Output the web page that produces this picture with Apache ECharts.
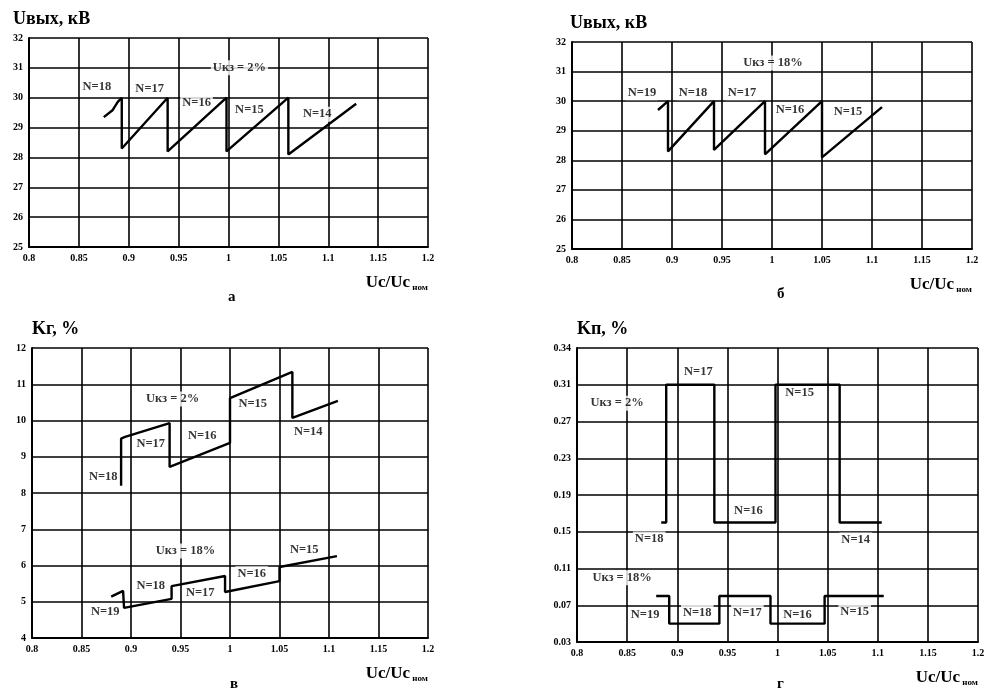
<!DOCTYPE html>
<html><head><meta charset="utf-8">
<script src="https://cdn.jsdelivr.net/npm/echarts@6/dist/echarts.min.js"></script>
<style>html,body{margin:0;padding:0;background:#fff}#c{width:990px;height:690px}</style>
</head><body><div id="c"></div>
<script>
// ---- tick labels ----
const xTickLabels = ['0.8','0.85','0.9','0.95','1','1.05','1.1','1.15','1.2'];
const yTickLabelsUout = ['25','26','27','28','29','30','31','32'];
const yTickLabelsKg = ['4','5','6','7','8','9','10','11','12'];
const yTickLabelsKp = ['0.03','0.07','0.11','0.15','0.19','0.23','0.27','0.31','0.34'];

// ---- panel а: Uвых, Uкз = 2% ----
const uOutSc2 = [[0.875,29.35],[0.884,29.59],[0.889,29.86],[0.893,30.0],[0.893,28.3],
  [0.939,30.0],[0.939,28.2],[0.998,30.0],[0.998,28.2],[1.060,30.0],[1.060,28.1],[1.128,29.8]];
// ---- panel б: Uвых, Uкз = 18% ----
const uOutSc18 = [[0.886,29.7],[0.896,30.0],[0.896,28.3],[0.942,30.0],[0.942,28.35],
  [0.993,30.0],[0.993,28.2],[1.050,30.0],[1.050,28.1],[1.110,29.8]];
// ---- panel в: Kг ----
const kgSc2 = [[0.890,8.2],[0.890,9.5],[0.894,9.55],[0.939,9.93],[0.939,8.72],[1.000,9.38],
  [1.000,10.62],[1.063,11.34],[1.063,10.07],[1.109,10.54]];
const kgSc18 = [[0.880,5.14],[0.892,5.3],[0.893,4.83],[0.941,5.08],[0.941,5.43],[0.995,5.71],
  [0.995,5.27],[1.050,5.57],[1.050,5.96],[1.108,6.26]];
// ---- panel г: Kп ----
const kpSc2 = [[0.884,0.16],[0.889,0.16],[0.889,0.31],[0.937,0.31],[0.937,0.16],[0.998,0.16],
  [0.998,0.31],[1.062,0.31],[1.062,0.16],[1.104,0.16]];
const kpSc18 = [[0.879,0.08],[0.892,0.08],[0.892,0.05],[0.942,0.05],[0.942,0.08],[0.993,0.08],
  [0.993,0.05],[1.047,0.05],[1.047,0.08],[1.106,0.08]];

// ---- annotations (data coordinates) ----
const notesA = [[0.868,30.36,'N=18'],[0.921,30.29,'N=17'],[0.968,29.82,'N=16'],
  [1.021,29.59,'N=15'],[1.089,29.45,'N=14'],[1.011,31.0,'Uкз = 2%']];
const notesB = [[0.870,30.28,'N=19'],[0.921,30.28,'N=18'],[0.970,30.28,'N=17'],
  [1.018,29.70,'N=16'],[1.076,29.63,'N=15'],[1.001,31.29,'Uкз = 18%']];
const notesV = [[0.942,10.59,'Uкз = 2%'],[1.023,10.46,'N=15'],[1.079,9.68,'N=14'],
  [0.972,9.57,'N=16'],[0.920,9.35,'N=17'],[0.872,8.44,'N=18'],
  [0.955,6.40,'Uкз = 18%'],[1.075,6.43,'N=15'],[1.022,5.77,'N=16'],
  [0.920,5.43,'N=18'],[0.970,5.24,'N=17'],[0.874,4.72,'N=19']];
const notesG = [[0.921,0.324,'N=17'],[0.840,0.290,'Uкз = 2%'],[1.022,0.301,'N=15'],
  [0.971,0.173,'N=16'],[0.872,0.142,'N=18'],[1.078,0.141,'N=14'],
  [0.845,0.100,'Uкз = 18%'],[0.868,0.060,'N=19'],[0.920,0.062,'N=18'],
  [0.970,0.062,'N=17'],[1.020,0.060,'N=16'],[1.077,0.063,'N=15']];

const FF = '"Liberation Serif", "DejaVu Serif", serif';
const chart = echarts.init(document.getElementById('c'));

function xAxis(gi) {
  return {
    type: 'value', gridIndex: gi, min: 0.8, max: 1.2, interval: 0.05,
    axisLine: {lineStyle: {color: '#000', width: 2}}, axisTick: {show: false},
    splitLine: {show: true, lineStyle: {color: '#000', width: 1.6}},
    axisLabel: {color: '#000', fontFamily: FF, fontWeight: 'bold', fontSize: 10, margin: 6,
      formatter: (v, i) => xTickLabels[i]},
    name: '{m|Uc/Uc}{s| ном}', nameLocation: 'end', nameGap: 0,
    nameTextStyle: {align: 'right', verticalAlign: 'top', padding: [27, 0, 0, 0],
      rich: {m: {fontFamily: FF, fontWeight: 'bold', fontSize: 17, color: '#000'},
             s: {fontFamily: FF, fontWeight: 'bold', fontSize: 9, color: '#000', padding: [9, 0, 0, 0]}}}
  };
}
function yAxis(gi, min, max, interval, labels, name, padLeft) {
  return {
    type: 'value', gridIndex: gi, min, max, interval,
    axisLine: {show: true, lineStyle: {color: '#000', width: 2}}, axisTick: {show: false},
    splitLine: {show: true, lineStyle: {color: '#000', width: 1.6}},
    axisLabel: {color: '#000', fontFamily: FF, fontWeight: 'bold', fontSize: 10, margin: 6,
      formatter: (v, i) => labels[i]},
    name, nameLocation: 'end', nameGap: 10,
    nameTextStyle: {color: '#000', fontFamily: FF, fontWeight: 'bold', fontSize: 18,
      align: 'left', verticalAlign: 'bottom', padding: [0, 0, 0, padLeft]}
  };
}
function line(gi, data) {
  return {type: 'line', xAxisIndex: gi, yAxisIndex: gi, data, showSymbol: false, symbol: 'none',
    lineStyle: {color: '#000', width: 2.4}, z: 6, animation: false};
}
function notes(gi, data) {
  return {type: 'scatter', xAxisIndex: gi, yAxisIndex: gi, data, symbolSize: 0, silent: true, z: 4,
    label: {show: true, position: 'inside', formatter: p => p.value[2], color: '#000',
      fontFamily: FF, fontWeight: 'bold', fontSize: 12.5, backgroundColor: '#fff', padding: [1, 2]},
    animation: false};
}
const capStyle = {fontFamily: FF, fontWeight: 'bold', fontSize: 15, color: '#000'};

chart.setOption({
  animation: false,
  backgroundColor: '#fff',
  title: [
    {text: 'а', left: 223, top: 285, textStyle: capStyle},
    {text: 'б', left: 772, top: 282, textStyle: capStyle},
    {text: 'в', left: 225, top: 672, textStyle: capStyle},
    {text: 'г', left: 772, top: 672, textStyle: capStyle}
  ],
  grid: [
    {left: 29, top: 38, width: 399, height: 209},
    {left: 572, top: 42, width: 400, height: 207},
    {left: 32, top: 348, width: 396, height: 290},
    {left: 577, top: 348, width: 401, height: 294}
  ],
  xAxis: [xAxis(0), xAxis(1), xAxis(2), xAxis(3)],
  yAxis: [
    yAxis(0, 25, 32, 1, yTickLabelsUout, 'Uвых, кВ', -16),
    yAxis(1, 25, 32, 1, yTickLabelsUout, 'Uвых, кВ', -2),
    yAxis(2, 4, 12, 1, yTickLabelsKg, 'Kг, %', 0),
    yAxis(3, 0.03, 0.35, 0.04, yTickLabelsKp, 'Kп, %', 0)
  ],
  series: [
    line(0, uOutSc2), notes(0, notesA),
    line(1, uOutSc18), notes(1, notesB),
    line(2, kgSc2), line(2, kgSc18), notes(2, notesV),
    line(3, kpSc2), line(3, kpSc18), notes(3, notesG)
  ]
});
</script></body></html>
